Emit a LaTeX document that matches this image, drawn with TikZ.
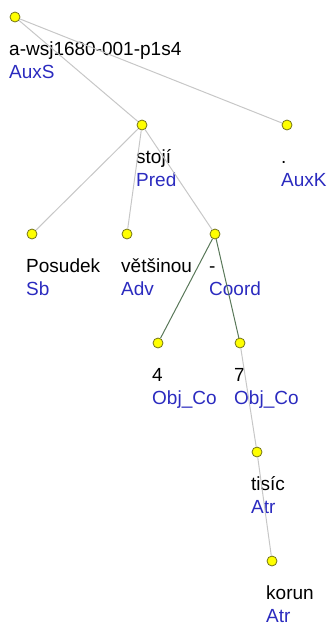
\documentclass[tikz,border=0pt]{standalone}
\usepackage{fontspec}
\setmainfont{Liberation Sans}
\usepackage{tikz}
\definecolor{dot yellow}{rgb}{1, 1, 0}
\definecolor{dot rim}{rgb}{0.45, 0.45, 0.1}
\definecolor{afun blue}{rgb}{0.17, 0.17, 0.75}
\definecolor{edge gray}{rgb}{0.78, 0.78, 0.78}
\definecolor{coord green}{rgb}{0.35, 0.47, 0.35}

\begin{document}
\begin{tikzpicture}[x=1pt, y=-1pt,
		dot/.style = {circle, fill=dot yellow, draw=dot rim, line width=0.8pt, inner sep=0pt, minimum size=10pt},
		word/.style = {anchor=base west, inner sep=0pt, font=\fontsize{19}{25}\selectfont},
		afun/.style = {word, text=afun blue},
		edge/.style = {edge gray, line width=1pt},
		member/.style = {coord green, line width=1pt}]
		\useasboundingbox (0, 0) rectangle (335, 625);
		% nodes with their words and functions
		\foreach \n/\x/\y/\w/\a in {
				root/15/17/a-wsj1680-001-p1s4/AuxS,
				stoji/142/125/stojí/Pred,
				dotk/287/125/./AuxK,
				posudek/32/234/Posudek/Sb,
				vetsinou/127/234/většinou/Adv,
				dash/215/234/-/Coord,
				four/158/343/4/Obj\_Co,
				seven/240/343/7/Obj\_Co,
				tisic/257/452/tisíc/Atr,
				korun/272/561/korun/Atr} {
			\node[dot] (\n) at (\x, \y) {};
			\node[word] (\n-w) at (\x - 6, \y + 38) {\w};
			\node[afun] (\n-a) at (\x - 6, \y + 61) {\a};
		}
		% edges
		\draw[edge] 
			(root) -- (stoji)
			(root) -- (dotk)
			(stoji) -- (posudek)
			(stoji) -- (vetsinou)
			(stoji) -- (dash)
			(seven) -- (tisic)
			(tisic) -- (korun);
		% coordination members
		\draw[member] 
			(dash) -- (four)
			(dash) -- (seven);
	\end{tikzpicture}
\end{document}
